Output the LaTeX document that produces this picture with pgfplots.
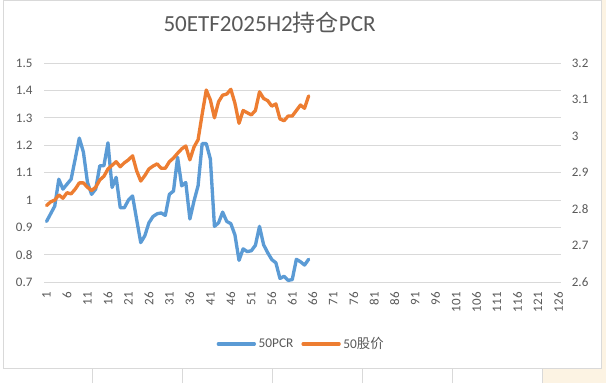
\documentclass[border=0pt]{standalone}
\usepackage{pgfplots}
\pgfplotsset{compat=1.18}
\usepackage{pgfplotstable}
\usepackage{fontspec}
\setmainfont{Carlito}
\newfontfamily\cjk{Noto Sans CJK SC}
\definecolor{pcrblue}{HTML}{5B9BD5}
\definecolor{pxorange}{HTML}{ED7D31}
\definecolor{gridgray}{HTML}{D9D9D9}
\definecolor{labgray}{HTML}{595959}
\definecolor{framegray}{HTML}{D9D9D9}
\definecolor{cellbeige}{HTML}{FCF3E3}

\pgfplotstableread{
i pcr
1 0.922
2 0.950
3 0.978
4 1.076
5 1.040
6 1.058
7 1.076
8 1.150
9 1.226
10 1.175
11 1.064
12 1.021
13 1.040
14 1.125
15 1.125
16 1.209
17 1.046
18 1.083
19 0.972
20 0.972
21 1.000
22 1.015
23 0.929
24 0.845
25 0.870
26 0.917
27 0.940
28 0.950
29 0.953
30 0.944
31 1.021
32 1.033
33 1.156
34 1.052
35 1.064
36 0.931
37 0.996
38 1.052
39 1.206
40 1.206
41 1.150
42 0.904
43 0.917
44 0.956
45 0.922
46 0.914
47 0.873
48 0.780
49 0.822
50 0.812
51 0.815
52 0.835
53 0.904
54 0.837
55 0.808
56 0.783
57 0.771
58 0.714
59 0.722
60 0.707
61 0.710
62 0.784
63 0.775
64 0.763
65 0.784
}\pcrtable

\pgfplotstableread{
i px
1 2.810
2 2.820
3 2.825
4 2.839
5 2.830
6 2.845
7 2.842
8 2.855
9 2.872
10 2.872
11 2.860
12 2.851
13 2.860
14 2.880
15 2.890
16 2.910
17 2.920
18 2.930
19 2.916
20 2.927
21 2.935
22 2.946
23 2.905
24 2.877
25 2.892
26 2.910
27 2.918
28 2.924
29 2.912
30 2.912
31 2.930
32 2.940
33 2.953
34 2.965
35 2.973
36 2.935
37 2.970
38 2.990
39 3.060
40 3.126
41 3.099
42 3.050
43 3.094
44 3.112
45 3.115
46 3.128
47 3.090
48 3.035
49 3.070
50 3.064
51 3.058
52 3.070
53 3.121
54 3.103
55 3.097
56 3.082
57 3.088
58 3.047
59 3.042
60 3.055
61 3.055
62 3.070
63 3.085
64 3.076
65 3.110
}\pxtable

\begin{document}
\begin{tikzpicture}
\useasboundingbox (0,0) rectangle (454.5pt,287.25pt);
\begin{scope}[x=0.75pt,y=0.75pt]
  \fill[cellbeige] (601,0) rectangle (606,383);
  \fill[cellbeige] (542.3,0) rectangle (606,14.7);
  \foreach \xx in {92.8,182.5,272.5,362.6,452.3,542.3}
    \draw[framegray, line width=0.75pt] (\xx,0) -- (\xx,14.7);
  \draw[framegray, line width=0.75pt, fill=white] (3,14.7) rectangle (601,382);
  \node[font=\fontsize{17.3}{19}\selectfont, text=labgray] at (269.6,360) {50ETF2025H2{\cjk 持仓}PCR};
\end{scope}

\begin{axis}[
  at={(33.375pt,75.525pt)}, anchor=south west,
  scale only axis, width=387pt, height=164.475pt,
  xmin=0.5, xmax=126.5, ymin=0.7, ymax=1.5,
  xtick={1,6,...,126},
  ytick={0.7,0.8,0.9,1,1.1,1.2,1.3,1.4,1.5},
  yticklabels={0.7,0.8,0.9,1,1.1,1.2,1.3,1.4,1.5},
  ymajorgrids, grid style={gridgray, line width=0.75pt},
  axis line style={draw=none},
  major tick length=0pt,
  /pgf/number format/assume math mode=true,
  tick label style={font=\fontsize{9.75}{11}\selectfont, text=labgray},
  xticklabel style={yshift=-4pt, rotate=90, anchor=east},
  yticklabel style={xshift=-5.5pt},
  legend style={at={(0.498,-0.281)}, anchor=center, draw=none, fill=none,
    font=\fontsize{10}{11}\selectfont, text=labgray, legend columns=-1,
    /tikz/every even column/.append style={column sep=4pt}},
  legend image code/.code={\draw[#1] (0pt,0pt) -- (27pt,0pt);},
]
\addplot[pcrblue, line width=2.5pt, line join=round, line cap=round] table[x=i, y=pcr] {\pcrtable};
\addlegendentry{50PCR}
\addlegendimage{pxorange, line width=2.5pt, line cap=round}
\addlegendentry{50{\cjk 股价}}
\end{axis}

\begin{axis}[
  at={(33.375pt,75.525pt)}, anchor=south west,
  scale only axis, width=387pt, height=164.475pt,
  xmin=0.5, xmax=126.5, ymin=2.6, ymax=3.2,
  axis x line=none, axis y line*=right,
  axis line style={draw=none},
  ytick={2.6,2.7,2.8,2.9,3,3.1,3.2},
  yticklabels={2.6,2.7,2.8,2.9,3,3.1,3.2},
  major tick length=0pt,
  tick label style={font=\fontsize{9.75}{11}\selectfont, text=labgray},
  yticklabel style={xshift=5pt},
]
\addplot[pxorange, line width=2.5pt, line join=round, line cap=round] table[x=i, y=px] {\pxtable};
\end{axis}
\end{tikzpicture}
\end{document}
